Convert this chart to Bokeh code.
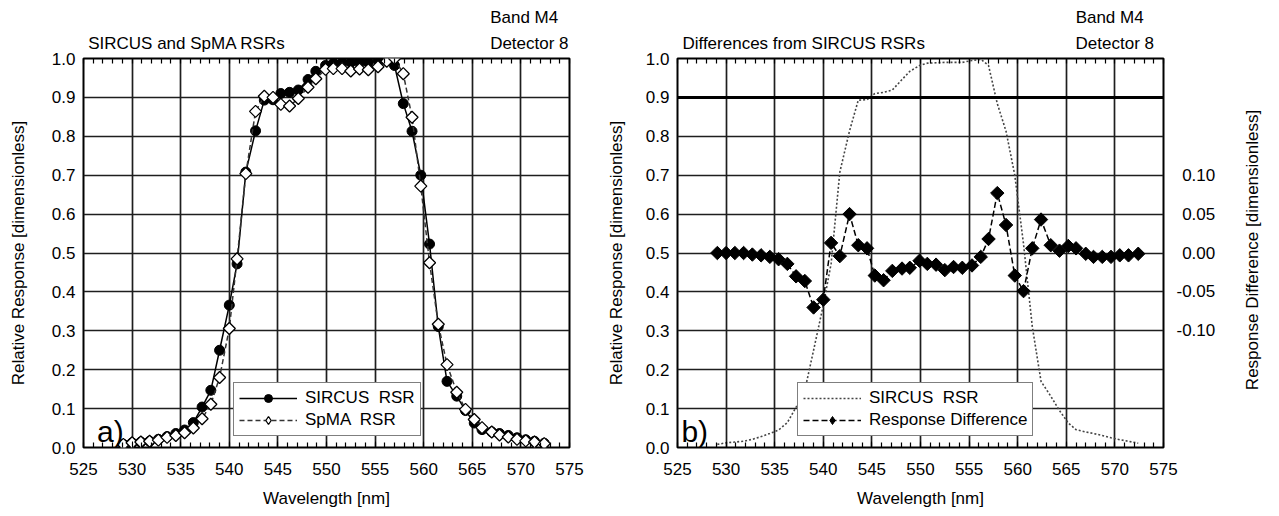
import math
from bokeh.plotting import figure
from bokeh.models import (LinearAxis, FixedTicker, PrintfTickFormatter, CustomJSTickFormatter,
                          Range1d, Span, Label, Legend, LegendItem)
from bokeh.layouts import row
from bokeh.core.properties import value
from bokeh.embed import file_html
from bokeh.resources import INLINE

# ---------------- data ----------------
wavelength = [529.1, 530.0, 530.9, 531.8, 532.7, 533.6, 534.5, 535.4, 536.3, 537.2,
              538.1, 539.0, 540.0, 540.8, 541.7, 542.7, 543.6, 544.5, 545.3, 546.2,
              547.1, 548.1, 548.9, 549.9, 550.7, 551.6, 552.5, 553.4, 554.3, 555.3,
              556.2, 557.0, 557.9, 558.8, 559.7, 560.6, 561.5, 562.4, 563.4, 564.3,
              565.2, 566.0, 567.0, 567.8, 568.7, 569.6, 570.5, 571.4, 572.4]

sircus_rsr = [0.008, 0.012, 0.014, 0.016, 0.021, 0.028, 0.036, 0.045, 0.064, 0.104,
              0.147, 0.250, 0.366, 0.472, 0.708, 0.814, 0.893, 0.894, 0.910, 0.913,
              0.919, 0.946, 0.967, 0.982, 0.988, 0.989, 0.990, 0.990, 0.990, 0.995,
              0.998, 0.982, 0.884, 0.813, 0.700, 0.523, 0.311, 0.170, 0.132, 0.095,
              0.063, 0.046, 0.040, 0.036, 0.031, 0.025, 0.020, 0.016, 0.011]

spma_rsr = [0.008, 0.012, 0.014, 0.016, 0.019, 0.026, 0.031, 0.038, 0.050, 0.074,
            0.111, 0.180, 0.306, 0.485, 0.704, 0.864, 0.903, 0.900, 0.882, 0.878,
            0.897, 0.926, 0.948, 0.972, 0.974, 0.974, 0.968, 0.973, 0.971, 0.979,
            0.993, 1.000, 0.961, 0.849, 0.672, 0.475, 0.317, 0.213, 0.142, 0.098,
            0.072, 0.051, 0.040, 0.032, 0.027, 0.021, 0.017, 0.014, 0.010]

response_diff = [0.000, 0.000, 0.000, 0.000, -0.002, -0.003, -0.005, -0.008, -0.014, -0.030,
                 -0.036, -0.070, -0.060, 0.013, -0.004, 0.050, 0.010, 0.006, -0.029, -0.035,
                 -0.023, -0.020, -0.019, -0.010, -0.014, -0.015, -0.022, -0.018, -0.019, -0.016,
                 -0.005, 0.018, 0.077, 0.036, -0.029, -0.049, 0.006, 0.043, 0.010, 0.003,
                 0.009, 0.006, -0.001, -0.005, -0.005, -0.005, -0.003, -0.003, -0.001]

x_ticks = [525, 530, 535, 540, 545, 550, 555, 560, 565, 570, 575]
x_minor = list(range(525, 576))
y_ticks = [0.0, 0.1, 0.2, 0.3, 0.4, 0.5, 0.6, 0.7, 0.8, 0.9, 1.0]
diff_ticks = [-0.10, -0.05, 0.0, 0.05, 0.10]

titles = ["SIRCUS and SpMA RSRs", "Differences from SIRCUS RSRs"]
band_text = "Band M4"
detector_text = "Detector 8"
tags = ["a)", "b)"]
y_label = "Relative Response [dimensionless]"
x_label = "Wavelength [nm]"
diff_label = "Response Difference [dimensionless]"

FONT = "Liberation Sans"
FS = "17px"
H = 513


def style_axis(ax, label_standoff=8):
    ax.axis_line_color = None
    ax.major_label_text_font = FONT
    ax.major_label_text_font_size = FS
    ax.major_label_text_color = "black"
    ax.major_label_standoff = label_standoff
    ax.axis_label_text_font = FONT
    ax.axis_label_text_font_size = FS
    ax.axis_label_text_font_style = "normal"
    ax.axis_label_text_color = "black"


def make_fig(width, min_left, min_right, ylab_standoff, title, title_x, band_x, det_x):
    p = figure(width=width, height=H, x_range=Range1d(525, 575), y_range=Range1d(0, 1),
               output_backend="svg", toolbar_location=None,
               min_border_left=min_left, min_border_right=min_right,
               min_border_top=58, min_border_bottom=H - 58 - 389)
    p.background_fill_color = "white"
    p.border_fill_color = "white"
    p.outline_line_color = "black"
    p.outline_line_width = 2

    xa = p.xaxis[0]
    xa.ticker = FixedTicker(ticks=x_ticks, minor_ticks=x_minor)
    style_axis(xa, 15)
    xa.axis_label = x_label
    xa.axis_label_standoff = 11
    xa.major_tick_in = 6
    xa.major_tick_out = 0
    xa.minor_tick_in = 5
    xa.minor_tick_out = 0
    xa.major_tick_line_color = "black"
    xa.minor_tick_line_color = "black"
    xa.minor_tick_line_width = 1.2

    # top axis: inner minor ticks, plus the panel title and "Detector 8" as its labels
    top = LinearAxis(ticker=FixedTicker(ticks=[title_x, det_x], minor_ticks=x_minor),
                     formatter=CustomJSTickFormatter(args=dict(a=title, b=detector_text),
                                                     code="return tick < 560 ? a : b;"))
    style_axis(top, 6)
    top.major_tick_in = 0
    top.major_tick_out = 0
    top.minor_tick_in = 5
    top.minor_tick_out = 0
    top.minor_tick_line_color = "black"
    top.minor_tick_line_width = 1.2
    p.add_layout(top, "above")

    top2 = LinearAxis(ticker=FixedTicker(ticks=[band_x], minor_ticks=[]),
                      formatter=CustomJSTickFormatter(args=dict(a=band_text),
                                                      code="return a;"))
    style_axis(top2, 4)
    top2.major_tick_in = 0
    top2.major_tick_out = 0
    top2.minor_tick_in = 0
    top2.minor_tick_out = 0
    p.add_layout(top2, "above")

    ya = p.yaxis[0]
    ya.ticker = FixedTicker(ticks=y_ticks)
    ya.formatter = PrintfTickFormatter(format="%.1f")
    style_axis(ya, 8)
    ya.axis_label = y_label
    ya.axis_label_standoff = ylab_standoff
    ya.major_tick_in = 0
    ya.major_tick_out = 0
    ya.minor_tick_in = 0
    ya.minor_tick_out = 0

    p.xgrid.ticker = FixedTicker(ticks=x_ticks)
    p.ygrid.ticker = FixedTicker(ticks=y_ticks)
    for g in (p.xgrid[0], p.ygrid[0]):
        g.grid_line_color = "#1e1e1e"
        g.grid_line_width = 1.7
        g.grid_line_alpha = 1.0
    return p


def add_tag(p, tag, tag_x):
    p.add_layout(Label(x=tag_x, y=0.04, text=tag, text_baseline="alphabetic",
                       text_font=FONT, text_font_size="30px", text_color="black"))


nan_x = [float("nan")]
nan_y = [float("nan")]

# ---------------- panel a ----------------
p1 = make_fig(600, 83, 31, 21, titles[0], 535.64, 570.34, 570.87)
add_tag(p1, tags[0], 526.4)

l_s = p1.line(wavelength, sircus_rsr, line_color="black", line_width=1.5)
m_s = p1.scatter(wavelength, sircus_rsr, marker="circle", size=10,
                 fill_color="black", line_color="black")
l_p = p1.line(wavelength, spma_rsr, line_color="#333333", line_width=1.5, line_dash="5 3")
m_p = p1.scatter(wavelength, spma_rsr, marker="square", angle=0.7854, size=8.5,
                 fill_color="white", line_color="black", line_width=1.3)
# legend-only marker (legend glyphs are not rotated)
k_p = p1.scatter(nan_x, nan_y, marker="diamond", size=14,
                 fill_color="white", line_color="black", line_width=1.3)

leg1 = Legend(items=[LegendItem(label="SIRCUS  RSR", renderers=[l_s, m_s]),
                     LegendItem(label="SpMA  RSR", renderers=[l_p, k_p])],
              location=(150, 11))
p1.add_layout(leg1)

# ---------------- panel b ----------------
p2 = make_fig(619, 77, 56, 17, titles[1], 537.98, 569.46, 569.99)
add_tag(p2, tags[1], 525.4)
p2.extra_y_ranges = {"diff": Range1d(-0.25, 0.25)}

p2.add_layout(Span(location=0.9, dimension="width", line_color="black", line_width=3))

l_d = p2.line(wavelength, sircus_rsr, line_color="#444444", line_width=1.6, line_dash="2 2")
l_r = p2.line(wavelength, response_diff, y_range_name="diff", line_color="black",
              line_width=1.5, line_dash="6 3")
m_r = p2.scatter(wavelength, response_diff, y_range_name="diff", marker="square",
                 angle=0.7854, size=9.5, fill_color="black", line_color="black")
k_r = p2.scatter(nan_x, nan_y, y_range_name="diff", marker="diamond", size=14,
                 fill_color="black", line_color="black")

ra = LinearAxis(y_range_name="diff", ticker=FixedTicker(ticks=diff_ticks),
                formatter=CustomJSTickFormatter(code="""
const v = Math.round(tick * 100) / 100;
if (v < 0) { return '-' + Math.abs(v).toFixed(2); }
return '\\u2004' + v.toFixed(2);
"""))
style_axis(ra, 13)
ra.major_tick_in = 0
ra.major_tick_out = 0
ra.minor_tick_in = 0
ra.minor_tick_out = 0
p2.add_layout(ra, "right")

leg2 = Legend(items=[LegendItem(label="SIRCUS  RSR", renderers=[l_d]),
                     LegendItem(label="Response Difference", renderers=[l_r, k_r])],
              location=(120, 11))
p2.add_layout(leg2)

for lg in (leg1, leg2):
    lg.label_text_font = FONT
    lg.label_text_font_size = FS
    lg.label_text_color = "black"
    lg.border_line_color = "black"
    lg.border_line_width = 1.5
    lg.background_fill_alpha = 1.0
    lg.glyph_width = 58
    lg.glyph_height = 20
    lg.label_height = 20
    lg.label_standoff = 8
    lg.padding = 5
    lg.spacing = 2
    lg.margin = 0

# ---------------- right-hand axis title (reads bottom to top) ----------------
s3 = figure(width=44, height=H, x_range=Range1d(0, 44), y_range=Range1d(0, H),
            output_backend="svg", toolbar_location=None,
            x_axis_location=None, y_axis_location=None,
            min_border_left=0, min_border_right=0, min_border_top=0, min_border_bottom=0)
s3.outline_line_color = None
s3.grid.visible = False
s3.text(x=[33], y=[H - 252.5], text=[diff_label], angle=math.pi / 2,
        text_font=value(FONT), text_font_size=value(FS), text_color="black",
        text_align="center", text_baseline="middle")

layout = row(p1, p2, s3)
open("out.html", "w").write(file_html(layout, INLINE))
